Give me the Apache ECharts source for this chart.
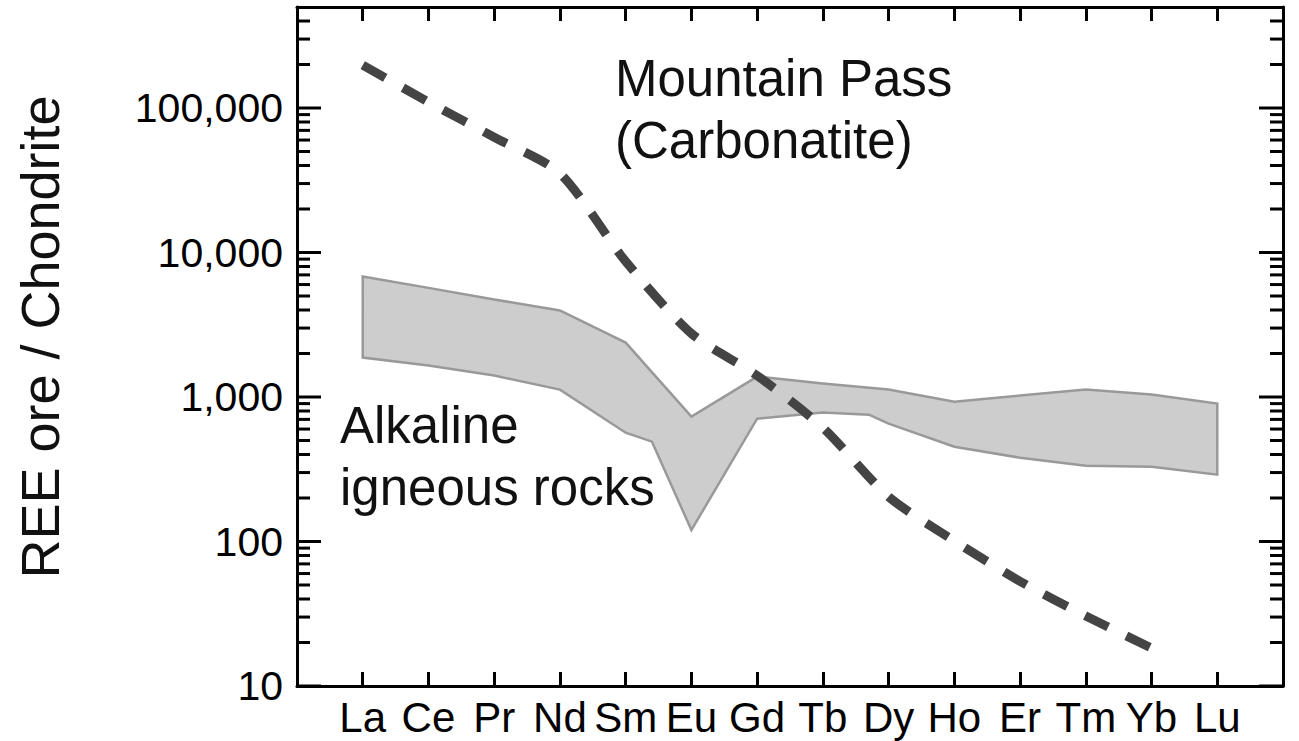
<!DOCTYPE html>
<html>
<head>
<meta charset="utf-8">
<title>REE ore / Chondrite</title>
<script src="https://cdn.jsdelivr.net/npm/echarts@6/dist/echarts.min.js"></script>
<style>
html,body{margin:0;padding:0;background:#fff;}
#chart{width:1299px;height:741px;}
</style>
</head>
<body>
<div id="chart"></div>
<script>
// 稀土元素（横轴）
var elements = ['La','Ce','Pr','Nd','Sm','Eu','Gd','Tb','Dy','Ho','Er','Tm','Yb','Lu'];
var elementX = [1,2,3,4,5,6,7,8,9,10,11,12,13,14];

// Mountain Pass (Carbonatite)，La..Yb
var mountainPass = [198000,110000,62800,35300,8680,2750,1407,614,204,101,53,30.5,18.3];

// 碱性火成岩范围：上边界
var bandUpperX = [1,2,3,4,5,6,7,8,9,10,11,12,13,14];
var bandUpper  = [6830,5690,4730,3970,2380,731,1385,1240,1125,929,1023,1125,1040,900];
// 下边界（含两处折点）
var bandLowerX = [1,2,3,4,5,5.4,6,7,8,8.7,9,10,11,12,13,14];
var bandLower  = [1875,1650,1407,1125,566,491,120,708,780,755,654,453,380,335,329,290];

// y轴刻度
var yMin = 10, yMax = 500000;
var yMajorTicks = [10,100,1000,10000,100000];
var yMinorTicks = [20,30,40,50,60,70,80,90,
                   200,300,400,500,600,700,800,900,
                   2000,3000,4000,5000,6000,7000,8000,9000,
                   20000,30000,40000,50000,60000,70000,80000,90000,
                   200000,300000,400000];

var FONT = "'Liberation Sans', Arial, Helvetica, sans-serif";

var mpData = [];
for (var i = 0; i < mountainPass.length; i++) {
    mpData.push([elementX[i], mountainPass[i]]);
}
// 多边形：上边界从左到右，下边界从右到左
var bandPoly = [];
for (var i = 0; i < bandUpper.length; i++) {
    bandPoly.push([bandUpperX[i], bandUpper[i]]);
}
for (var j = bandLower.length - 1; j >= 0; j--) {
    bandPoly.push([bandLowerX[j], bandLower[j]]);
}

var isMajor = function (v) {
    for (var k in yMajorTicks) {
        if (Math.abs(v - yMajorTicks[k]) / yMajorTicks[k] < 1e-6) return true;
    }
    return false;
};

// 刻度数据：[x, 值, 长度]
var tickData = [];
for (var k in yMajorTicks) tickData.push([0, yMajorTicks[k], 24]);
for (var k in yMinorTicks) tickData.push([0, yMinorTicks[k], 13]);

var myChart = echarts.init(document.getElementById('chart'), null, {renderer: 'svg'});

var axisLine = function () {
    return {show: true, onZero: false, lineStyle: {color: '#000', width: 3}};
};

var option = {
    animation: false,
    backgroundColor: '#fff',
    grid: {
        left: 297, right: 16, top: 7, bottom: 55,
        containLabel: false,
        outerBoundsMode: 'none'
    },
    xAxis: [{
        type: 'value',
        min: 0, max: 15, interval: 1,
        axisLine: axisLine(),
        axisTick: {inside: true, length: 14, lineStyle: {color: '#000', width: 3}},
        axisLabel: {
            color: '#000', fontSize: 42, fontFamily: FONT, margin: 10,
            formatter: function (v) {
                var idx = Math.round(v) - 1;
                return (idx >= 0 && idx < elements.length) ? elements[idx] : '';
            }
        },
        splitLine: {show: false}
    }, {
        type: 'value',
        position: 'top',
        min: 0, max: 15, interval: 1,
        axisLine: axisLine(),
        axisTick: {inside: true, length: 14, lineStyle: {color: '#000', width: 3}},
        axisLabel: {show: false},
        splitLine: {show: false}
    }],
    yAxis: [{
        type: 'log',
        logBase: 10,
        min: yMin, max: yMax,
        axisLine: axisLine(),
        axisTick: {show: false},
        axisLabel: {
            color: '#000', fontSize: 41, fontFamily: FONT, margin: 14,
            formatter: function (v) {
                if (!isMajor(v)) return '';
                return Math.round(v).toLocaleString('en-US');
            }
        },
        splitLine: {show: false}
    }, {
        type: 'log',
        logBase: 10,
        position: 'right',
        min: yMin, max: yMax,
        axisLine: axisLine(),
        axisTick: {show: false},
        axisLabel: {show: false},
        splitLine: {show: false}
    }],
    series: [{
        // 碱性火成岩范围
        type: 'custom',
        name: 'Alkaline igneous rocks',
        xAxisIndex: 0, yAxisIndex: 0,
        z: 2,
        data: [bandPoly[0]],
        renderItem: function (params, api) {
            var pts = bandPoly.map(function (p) { return api.coord(p); });
            return {
                type: 'polygon',
                shape: {points: pts},
                style: {fill: '#cdcdcd', stroke: '#999', lineWidth: 2.5}
            };
        }
    }, {
        // 对数刻度（左右两侧，向内）
        type: 'custom',
        name: 'yTicks',
        xAxisIndex: 0, yAxisIndex: 0,
        z: 5,
        silent: true,
        data: tickData,
        renderItem: function (params, api) {
            var v = api.value(1);
            var len = api.value(2);
            var l = api.coord([0, v]);
            var r = api.coord([15, v]);
            return {
                type: 'group',
                children: [
                    {type: 'line', shape: {x1: l[0], y1: l[1], x2: l[0] + len, y2: l[1]}, style: {stroke: '#000', lineWidth: 3}},
                    {type: 'line', shape: {x1: r[0], y1: r[1], x2: r[0] - len, y2: r[1]}, style: {stroke: '#000', lineWidth: 3}}
                ]
            };
        }
    }, {
        type: 'line',
        name: 'Mountain Pass',
        xAxisIndex: 0, yAxisIndex: 0,
        z: 4,
        data: mpData,
        symbol: 'none',
        smooth: 0.25,
        lineStyle: {color: '#444', width: 9, type: [26, 20], cap: 'butt'}
    }],
    graphic: [{
        type: 'text',
        left: 615, top: 47,
        style: {text: 'Mountain Pass\n(Carbonatite)', font: '51px ' + FONT, fill: '#111', lineHeight: 62}
    }, {
        type: 'text',
        left: 340, top: 394,
        style: {text: 'Alkaline\nigneous rocks', font: '51px ' + FONT, fill: '#111', lineHeight: 62}
    }, {
        type: 'text',
        x: 40, y: 337,
        rotation: Math.PI / 2,
        style: {text: 'REE ore / Chondrite', font: '54px ' + FONT, fill: '#111', align: 'center', verticalAlign: 'middle'}
    }]
};
myChart.setOption(option);
</script>
</body>
</html>
